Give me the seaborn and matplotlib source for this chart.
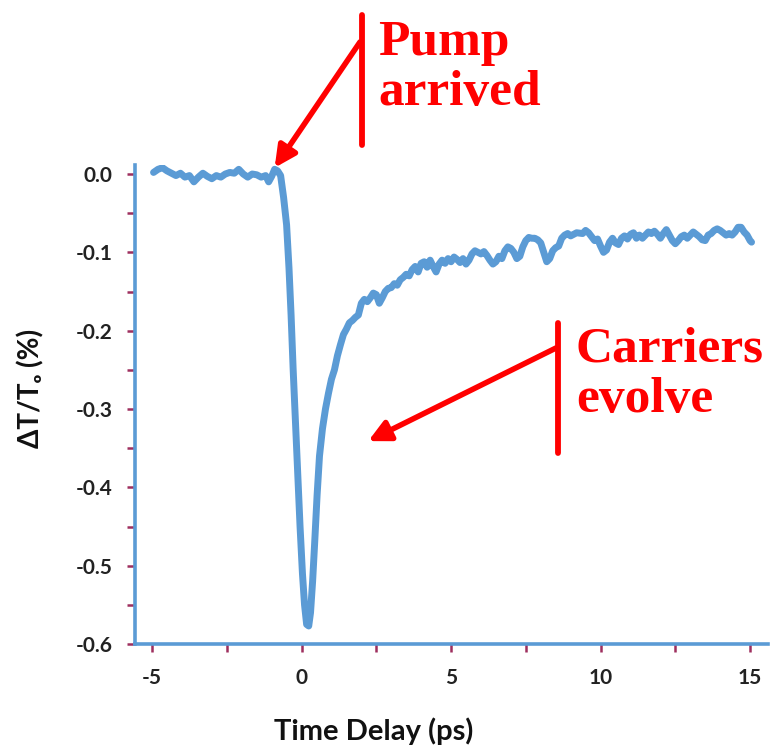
import matplotlib
matplotlib.use("Agg")
import matplotlib.pyplot as plt
from matplotlib.lines import Line2D
from matplotlib.ticker import MultipleLocator, FormatStrFormatter
import seaborn as sns
import pandas as pd

# ---- data ----
time_ps = [
    -4.95, -4.8, -4.65, -4.5, -4.35, -4.2, -4.05, -3.9, -3.75, -3.6, -3.45, -3.3, -3.15, -3.0,
    -2.85, -2.7, -2.55, -2.4, -2.25, -2.1, -1.95, -1.8, -1.65, -1.5, -1.35, -1.2, -1.1, -1.0,
    -0.9, -0.8, -0.7, -0.6, -0.5, -0.42, -0.35, -0.28, -0.2, -0.12, -0.05, 0.03, 0.1, 0.17,
    0.24, 0.3, 0.37, 0.44, 0.52, 0.6, 0.7, 0.8, 0.9, 1.0, 1.1, 1.2, 1.3, 1.4, 1.5, 1.6, 1.7,
    1.8, 1.9, 2.0, 2.1, 2.2, 2.3, 2.4, 2.5, 2.6, 2.7, 2.8, 2.9, 3.0, 3.1, 3.2, 3.3, 3.4, 3.5,
    3.6, 3.7, 3.8, 3.9, 4.0, 4.1, 4.2, 4.3, 4.4, 4.5, 4.6, 4.7, 4.8, 4.9, 5.0, 5.1, 5.2, 5.3,
    5.4, 5.5, 5.6, 5.7, 5.8, 5.9, 6.0, 6.1, 6.2, 6.3, 6.4, 6.5, 6.6, 6.7, 6.8, 6.9, 7.0, 7.1,
    7.2, 7.3, 7.4, 7.5, 7.6, 7.7, 7.8, 7.9, 8.0, 8.1, 8.2, 8.3, 8.4, 8.5, 8.6, 8.7, 8.8, 8.9,
    9.0, 9.2, 9.4, 9.5, 9.6, 9.7, 9.8, 9.9, 10.0, 10.1, 10.2, 10.3, 10.4, 10.5, 10.6, 10.7,
    10.8, 10.9, 11.0, 11.1, 11.2, 11.3, 11.4, 11.5, 11.6, 11.7, 11.8, 11.9, 12.0, 12.1, 12.2,
    12.3, 12.4, 12.5, 12.6, 12.7, 12.8, 12.9, 13.0, 13.1, 13.2, 13.3, 13.4, 13.5, 13.6, 13.7,
    13.8, 13.9, 14.0, 14.1, 14.2, 14.3, 14.4, 14.5, 14.6, 14.7, 14.8, 14.9, 15.0, 15.05,
]
delta_t = [
    0.002, 0.006, 0.008, 0.004, 0.001, -0.002, 0.001, -0.004, -0.002, -0.010, -0.004, 0.001, -0.003, -0.006,
    -0.002, -0.004, 0.000, 0.002, 0.001, 0.006, 0.000, -0.004, 0.000, -0.001, -0.004, -0.002, -0.010, -0.003,
    0.006, 0.004, -0.002, -0.030, -0.065, -0.120, -0.180, -0.250, -0.320, -0.390, -0.450, -0.510, -0.550, -0.575,
    -0.577, -0.560, -0.520, -0.470, -0.410, -0.360, -0.325, -0.300, -0.280, -0.262, -0.250, -0.232, -0.218, -0.205, -0.198, -0.190, -0.187,
    -0.183, -0.180, -0.165, -0.160, -0.163, -0.158, -0.152, -0.154, -0.165, -0.158, -0.150, -0.146, -0.145, -0.140, -0.142, -0.135, -0.132, -0.128,
    -0.130, -0.122, -0.118, -0.125, -0.114, -0.112, -0.119, -0.110, -0.118, -0.125, -0.115, -0.110, -0.114, -0.108, -0.112, -0.106, -0.109, -0.113,
    -0.108, -0.115, -0.110, -0.102, -0.098, -0.100, -0.102, -0.099, -0.104, -0.110, -0.115, -0.112, -0.105, -0.108, -0.098, -0.093, -0.095, -0.100,
    -0.108, -0.105, -0.093, -0.085, -0.081, -0.082, -0.082, -0.084, -0.088, -0.100, -0.112, -0.108, -0.098, -0.094, -0.092, -0.082, -0.078, -0.076,
    -0.079, -0.075, -0.076, -0.072, -0.075, -0.080, -0.085, -0.083, -0.092, -0.100, -0.097, -0.087, -0.082, -0.088, -0.090, -0.082,
    -0.079, -0.083, -0.077, -0.075, -0.082, -0.078, -0.082, -0.078, -0.074, -0.076, -0.073, -0.077, -0.082, -0.076, -0.071,
    -0.078, -0.085, -0.089, -0.085, -0.080, -0.078, -0.082, -0.078, -0.074, -0.077, -0.080, -0.084, -0.085, -0.078, -0.076,
    -0.072, -0.070, -0.072, -0.075, -0.078, -0.076, -0.078, -0.074, -0.068, -0.068, -0.074, -0.078, -0.085, -0.087,
]
x_ticks = [-5, 0, 5, 10, 15]
y_ticks = [0.0, -0.1, -0.2, -0.3, -0.4, -0.5, -0.6]
x_label = "Time Delay (ps)"
y_label = "ΔT/Tₒ (%)"
note_pump = "Pump\narrived"
note_carriers = "Carriers\nevolve"

df = pd.DataFrame({"t": time_ps, "dT": delta_t})

# ---- style ----
sns.set_style("white")
plt.rcParams["font.family"] = ["Lato", "DejaVu Sans"]
plt.rcParams["axes.unicode_minus"] = False

W, H = 775, 751
fig = plt.figure(figsize=(W / 100, H / 100), dpi=100)
L, R, B, T = 135, 768, 644, 165
ax = fig.add_axes([L / W, 1 - B / H, (R - L) / W, (B - T) / H])

blue = "#5B9BD5"
sns.lineplot(data=df, x="t", y="dT", ax=ax, color=blue, linewidth=5, sort=False,
             errorbar=None)

ax.set_xlim(-5.57, 15.6)
ax.set_ylim(-0.6, 0.0115)

for s in ["top", "right"]:
    ax.spines[s].set_visible(False)
for s in ["left", "bottom"]:
    ax.spines[s].set_color(blue)
    ax.spines[s].set_linewidth(2.6)
    ax.spines[s].set_zorder(3)

ax.set_xticks(x_ticks)
ax.set_yticks(y_ticks)
ax.xaxis.set_minor_locator(MultipleLocator(2.5))
ax.yaxis.set_minor_locator(MultipleLocator(0.05))
ax.yaxis.set_major_formatter(FormatStrFormatter("%.1f"))
tick_col = "#9E2F5E"
ax.tick_params(which="both", direction="out", length=6, width=1.8, color=tick_col,
               left=True, bottom=True)
ax.tick_params(axis="y", which="major", pad=10)
ax.tick_params(axis="x", which="major", pad=11)
for lab in ax.get_xticklabels() + ax.get_yticklabels():
    lab.set_fontsize(15)
    lab.set_fontweight("bold")
    lab.set_color("#222222")
ax.xaxis.get_major_ticks()[0].tick1line.set_color("#d0d0d0")
ax.yaxis.get_major_ticks()[-1].tick1line.set_color("#d0d0d0")

ax.set_xlabel(x_label, fontsize=21, fontweight="bold", color="#111111")
ax.set_ylabel(y_label, fontsize=20, fontweight="bold", color="#111111")
ax.xaxis.set_label_coords((374 - L) / (R - L), -(731 - B) / (B - T), transform=ax.transAxes)
ax.xaxis.label.set_va("center")
ax.yaxis.set_label_coords(-(L - 31) / (R - L), (B - 388) / (B - T))
ax.yaxis.label.set_va("center")


def ff(px, py):
    return (px / W, 1 - py / H)


red = "#FF0000"
serif = ["Liberation Serif", "DejaVu Serif"]

# Pump arrived
fig.add_artist(Line2D([362 / W, 362 / W], [1 - 15 / H, 1 - 145 / H], color=red, lw=4.2,
                      transform=fig.transFigure))
ax.annotate("", xy=(-0.9, 0.008), xycoords="data", xytext=ff(360, 42),
            textcoords="figure fraction",
            arrowprops=dict(arrowstyle="-|>", color=red, lw=4, mutation_scale=32,
                            shrinkA=0, shrinkB=0), annotation_clip=False)
fig.text(378 / W, 1 - 105 / H, note_pump, color=red, fontsize=37, fontweight="bold",
         family=serif, ha="left", va="baseline", linespacing=1.12)

# Carriers evolve
fig.add_artist(Line2D([558 / W, 558 / W], [1 - 323 / H, 1 - 453 / H], color=red, lw=4.2,
                      transform=fig.transFigure))
ax.annotate("", xy=(2.23, -0.341), xycoords="data", xytext=ff(556, 348),
            textcoords="figure fraction",
            arrowprops=dict(arrowstyle="-|>", color=red, lw=4, mutation_scale=32,
                            shrinkA=0, shrinkB=0), annotation_clip=False)
fig.text(576 / W, 1 - 412 / H, note_carriers, color=red, fontsize=37, fontweight="bold",
         family=serif, ha="left", va="baseline", linespacing=1.12)

fig.savefig("out.png", dpi=100)
